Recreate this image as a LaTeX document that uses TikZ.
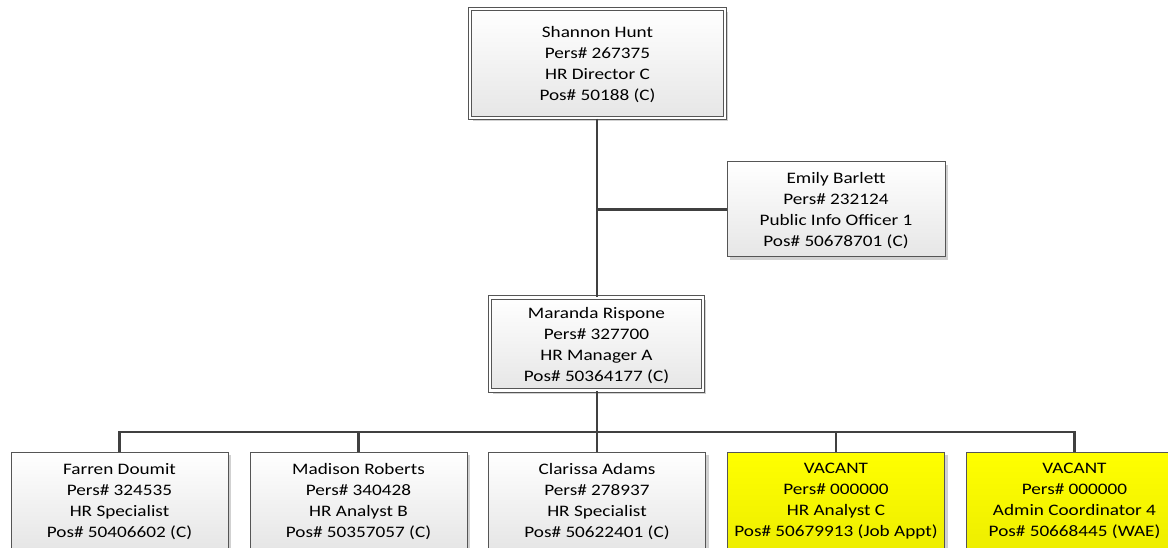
\documentclass[tikz,border=0pt]{standalone}
\usepackage{fontspec}
\setmainfont{Carlito}[FakeStretch=1.2]
\usetikzlibrary{shadows}
\definecolor{linec}{HTML}{404040}
\definecolor{boxline}{HTML}{555555}
\definecolor{yelA}{RGB}{255,255,0}
\definecolor{yelB}{RGB}{238,238,0}
\definecolor{greyB}{HTML}{E6E6E6}
\tikzset{
  orgbox/.style={draw=boxline, line width=1pt, top color=white, bottom color=greyB,
    align=center, inner sep=0pt, minimum width=217pt, minimum height=96pt,
    font=\fontsize{16}{21}\selectfont, text depth=-4.5pt,
    drop shadow={shadow xshift=3pt, shadow yshift=-3pt, fill=black!18, opacity=1}},
  vacant/.style={orgbox, top color=yelA, bottom color=yelB},
  dbl/.style={double=white, double distance=2.4pt, line width=1.1pt},
  conn/.style={draw=linec, line width=2.2pt}
}
\begin{document}
\begin{tikzpicture}[x=1pt,y=-1pt]
\clip (0,0) rectangle (1168,548);
\useasboundingbox (0,0) rectangle (1168,548);
\fill[white] (0,0) rectangle (1168,548);

\node[orgbox, dbl, minimum width=255pt, minimum height=109pt] (top) at (597.5,63.5)
  {Shannon Hunt\\Pers\# 267375\\HR Director C\\Pos\# 50188 (C)};
\node[orgbox, minimum width=218pt, minimum height=95pt] (emily) at (836,209.5)
  {Emily Barlett\\Pers\# 232124\\Public Info Officer 1\\Pos\# 50678701 (C)};
\node[orgbox, dbl, minimum width=213pt, minimum height=93pt] (mar) at (596.5,344)
  {Maranda Rispone\\Pers\# 327700\\HR Manager A\\Pos\# 50364177 (C)};

\node[orgbox] (b1) at (119.5,500)
  {Farren Doumit\\Pers\# 324535\\HR Specialist\\Pos\# 50406602 (C)};
\node[orgbox] (b2) at (358.5,500)
  {Madison Roberts\\Pers\# 340428\\HR Analyst B\\Pos\# 50357057 (C)};
\node[orgbox] (b3) at (597,500)
  {Clarissa Adams\\Pers\# 278937\\HR Specialist\\Pos\# 50622401 (C)};
\node[vacant] (b4) at (836,500)
  {VACANT\\Pers\# 000000\\HR Analyst C\\Pos\# 50679913 (Job Appt)};
\node[vacant] (b5) at (1074.5,500)
  {VACANT\\Pers\# 000000\\Admin Coordinator 4\\Pos\# 50668445 (WAE)};

\coordinate (bus) at (597,432);
\draw[conn] (597,0 |- top.south) -- (597,0 |- mar.north);
\draw[conn] (597,0 |- emily.west) -- (emily.west);
\draw[conn] (597,0 |- mar.south) -- (bus);
\draw[conn] (b1.north) |- (b5.north |- bus) -- (b5.north);
\draw[conn] (b2.north) -- (b2.north |- bus);
\draw[conn] (b3.north) -- (b3.north |- bus);
\draw[conn] (b4.north) -- (b4.north |- bus);
\end{tikzpicture}
\end{document}
